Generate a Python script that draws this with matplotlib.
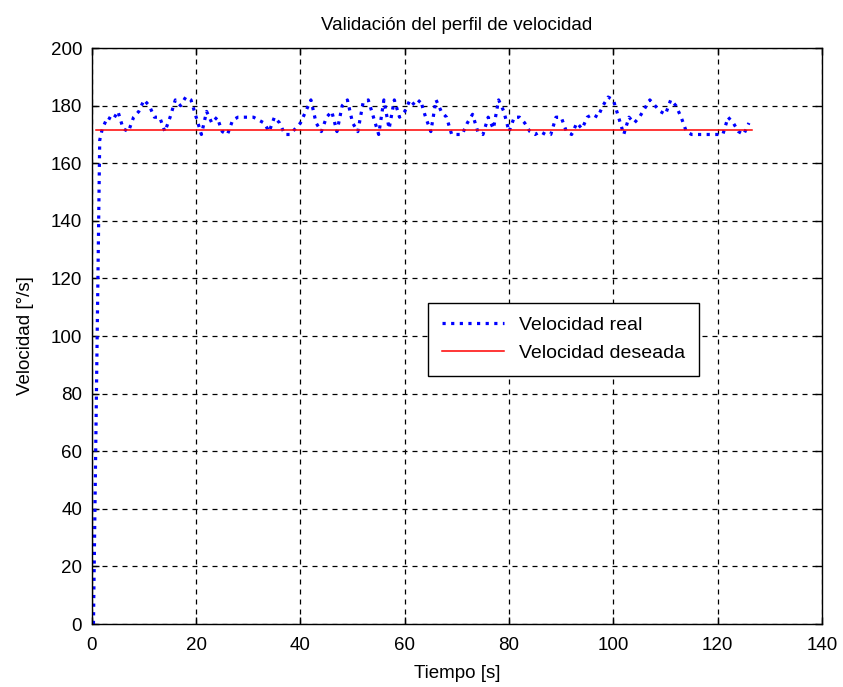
import numpy as np
import matplotlib
matplotlib.use("Agg")
import matplotlib.pyplot as plt

plt.rcParams['font.family'] = ['Liberation Sans', 'DejaVu Sans']

# Measured speed (deg/s) sampled each second after the initial ramp
t_ramp = [0.3, 1.5]
v_ramp = [0, 168]
t_meas = list(range(2, 127))
v_meas = [172, 176, 175, 178, 172, 171, 176, 178, 182, 180,
          176, 176, 171, 176, 182, 180, 183, 182, 176, 170,
          178, 174, 176, 171, 170, 175, 176, 176, 176, 176,
          175, 174, 171, 176, 174, 170, 170, 172, 174, 178,
          182, 174, 171, 176, 178, 171, 180, 182, 174, 171,
          181, 182, 176, 170, 182, 172, 182, 176, 178, 182,
          180, 182, 176, 171, 182, 178, 176, 170, 170, 170,
          174, 177, 171, 170, 176, 172, 182, 178, 171, 176,
          176, 174, 171, 170, 171, 170, 170, 176, 176, 171,
          170, 174, 172, 176, 177, 176, 180, 183, 182, 176,
          170, 176, 174, 176, 179, 182, 180, 178, 177, 182,
          180, 176, 171, 170, 170, 170, 170, 170, 170, 170,
          176, 174, 171, 170, 174]
time_real = t_ramp + t_meas
speed_real = v_ramp + v_meas

# Desired (reference) speed
time_ref = [0.8, 126.5]
speed_ref = [171.5, 171.5]

fig = plt.figure(figsize=(8.43, 6.87), dpi=100)
ax = fig.add_axes([0.109, 0.0917, 0.866, 0.8383])

ax.plot(time_real, speed_real, color='#0000ff', linestyle=(0, (1, 1.7)),
        linewidth=2.3, label='Velocidad real')
ax.plot(time_ref, speed_ref, color='#ff0000', linewidth=1.1,
        label='Velocidad deseada')

ax.set_xlim(0, 140)
ax.set_ylim(0, 200)
ax.set_xticks(np.arange(0, 141, 20))
ax.set_yticks(np.arange(0, 201, 20))
ax.tick_params(direction='in', length=5, width=1, labelsize=13.5,
               top=True, right=True, pad=7)
ax.tick_params(axis='x', pad=9)
ax.grid(True, color='black', linestyle=(0, (4, 4)), linewidth=0.9)
for s in ax.spines.values():
    s.set_linewidth(1.0)

ax.set_title('Validación del perfil de velocidad', fontsize=13.5, pad=13)
ax.set_xlabel('Tiempo [s]', fontsize=13.5, labelpad=8)
ax.set_ylabel('Velocidad [°/s]', fontsize=13.5, labelpad=12)

leg = ax.legend(loc='upper left', bbox_to_anchor=(0.447, 0.575),
                fontsize=14, frameon=True, fancybox=False, framealpha=1,
                edgecolor='black', handlelength=3.2, handletextpad=0.8,
                borderpad=0.7, labelspacing=0.55)
leg.get_frame().set_linewidth(1.0)

fig.savefig('out.png', dpi=100, facecolor='white')
